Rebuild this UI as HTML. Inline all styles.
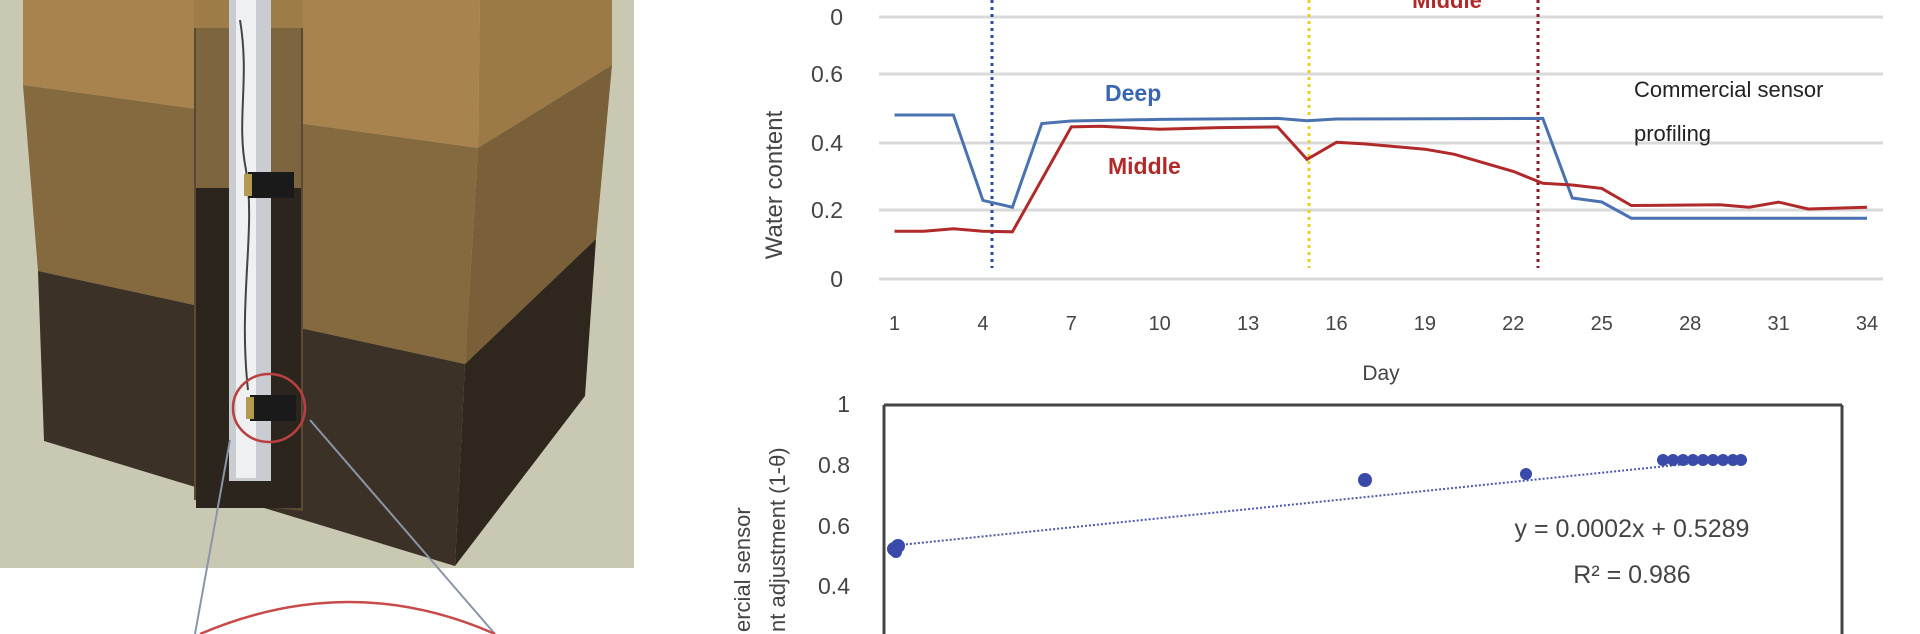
<!DOCTYPE html>
<html><head><meta charset="utf-8"><style>
html,body{margin:0;padding:0;background:#fff;width:1920px;height:634px;overflow:hidden}
svg{display:block}
text{font-family:"Liberation Sans",sans-serif}
</style></head><body>
<svg width="1920" height="634" viewBox="0 0 1920 634" xmlns="http://www.w3.org/2000/svg">
<rect x="0" y="0" width="634" height="568" fill="#c9c8b2"/>
<polygon points="23,0 480,0 478,148 23,85" fill="#a8834e"/>
<polygon points="23,85 478,148 465,364 38,271" fill="#85693f"/>
<polygon points="38,271 465,364 455,566 44,441" fill="#3b3126"/>
<polygon points="480,0 612,0 612,65 478,148" fill="#9c7a48"/>
<polygon points="478,148 612,65 596,239 465,364" fill="#7a6038"/>
<polygon points="465,364 596,239 585,396 455,566" fill="#2f271e"/>
<polygon points="194,0 303,0 303,511 194,500" fill="#5a4a33"/>
<rect x="194" y="0" width="109" height="28" fill="#9d7c4a"/>
<rect x="196" y="28" width="105" height="160" fill="#7d663f"/>
<rect x="196" y="188" width="105" height="320" fill="#2c251d"/>
<rect x="229" y="0" width="42" height="481" fill="#c9ccd0"/>
<rect x="236" y="0" width="20" height="478" fill="#eef0f2"/>
<path d="M240,20 C250,80 236,120 246,170 C256,230 238,300 248,390" stroke="#444" stroke-width="2" fill="none"/>
<rect x="248" y="172" width="46" height="26" fill="#1a1a1a"/>
<rect x="244" y="174" width="8" height="22" fill="#b49a50"/>
<rect x="250" y="395" width="46" height="26" fill="#1a1a1a"/>
<rect x="246" y="397" width="8" height="22" fill="#b49a50"/>
<ellipse cx="269" cy="408" rx="36" ry="34" fill="none" stroke="#b84040" stroke-width="2.5"/>
<line x1="230" y1="440" x2="195" y2="634" stroke="#8a96a8" stroke-width="2"/>
<line x1="310" y1="420" x2="495" y2="634" stroke="#8a96a8" stroke-width="2"/>
<path d="M200,634 Q350,570 495,634" fill="none" stroke="#c84a4a" stroke-width="2.5"/>

<g stroke="#d9d9d9" stroke-width="3">
<line x1="879" y1="17" x2="1883" y2="17"/>
<line x1="879" y1="74" x2="1883" y2="74"/>
<line x1="879" y1="143" x2="1883" y2="143"/>
<line x1="879" y1="210" x2="1883" y2="210"/>
<line x1="879" y1="279" x2="1883" y2="279"/>
</g>
<text x="1447" y="8" font-size="22" font-weight="bold" fill="#b02a2a" text-anchor="middle">Middle</text>
<g font-size="23" fill="#444" text-anchor="end">
<text x="843" y="25">0</text>
<text x="843" y="82">0.6</text>
<text x="843" y="151">0.4</text>
<text x="843" y="218">0.2</text>
<text x="843" y="287">0</text>
</g>
<text transform="translate(782,185) rotate(-90)" font-size="24" fill="#444" text-anchor="middle">Water content</text>
<g font-size="20" fill="#444" text-anchor="middle">
<text x="894.5" y="330">1</text><text x="982.9" y="330">4</text><text x="1071.3" y="330">7</text>
<text x="1159.7" y="330">10</text><text x="1248.1" y="330">13</text><text x="1336.5" y="330">16</text>
<text x="1424.9" y="330">19</text><text x="1513.3" y="330">22</text><text x="1601.8" y="330">25</text>
<text x="1690.2" y="330">28</text><text x="1778.6" y="330">31</text><text x="1867" y="330">34</text>
</g>
<text x="1381" y="380" font-size="21" fill="#444" text-anchor="middle">Day</text>
<line x1="992" y1="0" x2="992" y2="268" stroke="#2a4aa8" stroke-width="3" stroke-dasharray="3,4"/>
<line x1="1309" y1="0" x2="1309" y2="268" stroke="#e8d020" stroke-width="3" stroke-dasharray="3,4"/>
<line x1="1538" y1="0" x2="1538" y2="268" stroke="#8a1a2a" stroke-width="3" stroke-dasharray="3,4"/>
<polyline fill="none" stroke="#4a72b0" stroke-width="3" points="894.5,115 953.4,115 982.9,200.4 1012.4,207.2 1041.8,123.5 1071.3,121 1159.7,119.4 1277.6,118.4 1307,120.8 1336.5,119 1542.8,118.4 1572.3,198 1601.8,202 1631.3,218.2 1867,218.2"/>
<polyline fill="none" stroke="#b02a2a" stroke-width="3" points="894.5,231.2 924,231.2 953.4,228.8 982.9,231.2 1012.4,231.8 1071.3,126.9 1100.8,126.3 1159.7,129.3 1218.6,127.6 1277.6,126.9 1307,159.4 1336.5,142.3 1366,144 1424.9,149.2 1454.4,154.3 1513.3,171.4 1542.8,183.3 1572.3,185 1601.8,188.4 1631.3,205.5 1719.7,204.8 1749.2,207.2 1778.6,202.1 1808.1,209 1867,207.2"/>
<text x="1105" y="101" font-size="23" font-weight="bold" fill="#3a66b0">Deep</text>
<text x="1108" y="174" font-size="23" font-weight="bold" fill="#b02a2a">Middle</text>
<text x="1634" y="97" font-size="22" fill="#222">Commercial sensor</text>
<text x="1634" y="141" font-size="22" fill="#222">profiling</text>

<g stroke="#444" stroke-width="3">
<line x1="884" y1="405" x2="1842" y2="405"/>
<line x1="884" y1="405" x2="884" y2="634"/>
<line x1="1842" y1="405" x2="1842" y2="634"/>
</g>
<g font-size="23" fill="#444" text-anchor="end">
<text x="850" y="412">1</text>
<text x="850" y="473">0.8</text>
<text x="850" y="534">0.6</text>
<text x="850" y="594">0.4</text>
</g>
<text transform="translate(750,632) rotate(-90)" font-size="22" fill="#444">ercial sensor</text>
<text transform="translate(785,632) rotate(-90)" font-size="22" fill="#444">nt adjustment (1-θ)</text>
<line x1="890" y1="546" x2="1745" y2="458" stroke="#4a5aa8" stroke-width="2" stroke-dasharray="2,2"/>
<g fill="#3a4aa8">
<circle cx="894" cy="549" r="7"/><circle cx="898" cy="546" r="7"/><circle cx="896" cy="552" r="6"/>
<circle cx="1365" cy="480" r="7"/><circle cx="1526" cy="474" r="6"/>
<circle cx="1663" cy="460" r="6"/><circle cx="1673" cy="460" r="6"/><circle cx="1683" cy="460" r="6"/>
<circle cx="1693" cy="460" r="6"/><circle cx="1703" cy="460" r="6"/><circle cx="1713" cy="460" r="6"/>
<circle cx="1723" cy="460" r="6"/><circle cx="1733" cy="460" r="6"/><circle cx="1741" cy="460" r="6"/>
</g>
<text x="1632" y="537" font-size="25" fill="#444" text-anchor="middle">y = 0.0002x + 0.5289</text>
<text x="1632" y="583" font-size="25" fill="#444" text-anchor="middle">R² = 0.986</text>
</svg>
</body></html>
